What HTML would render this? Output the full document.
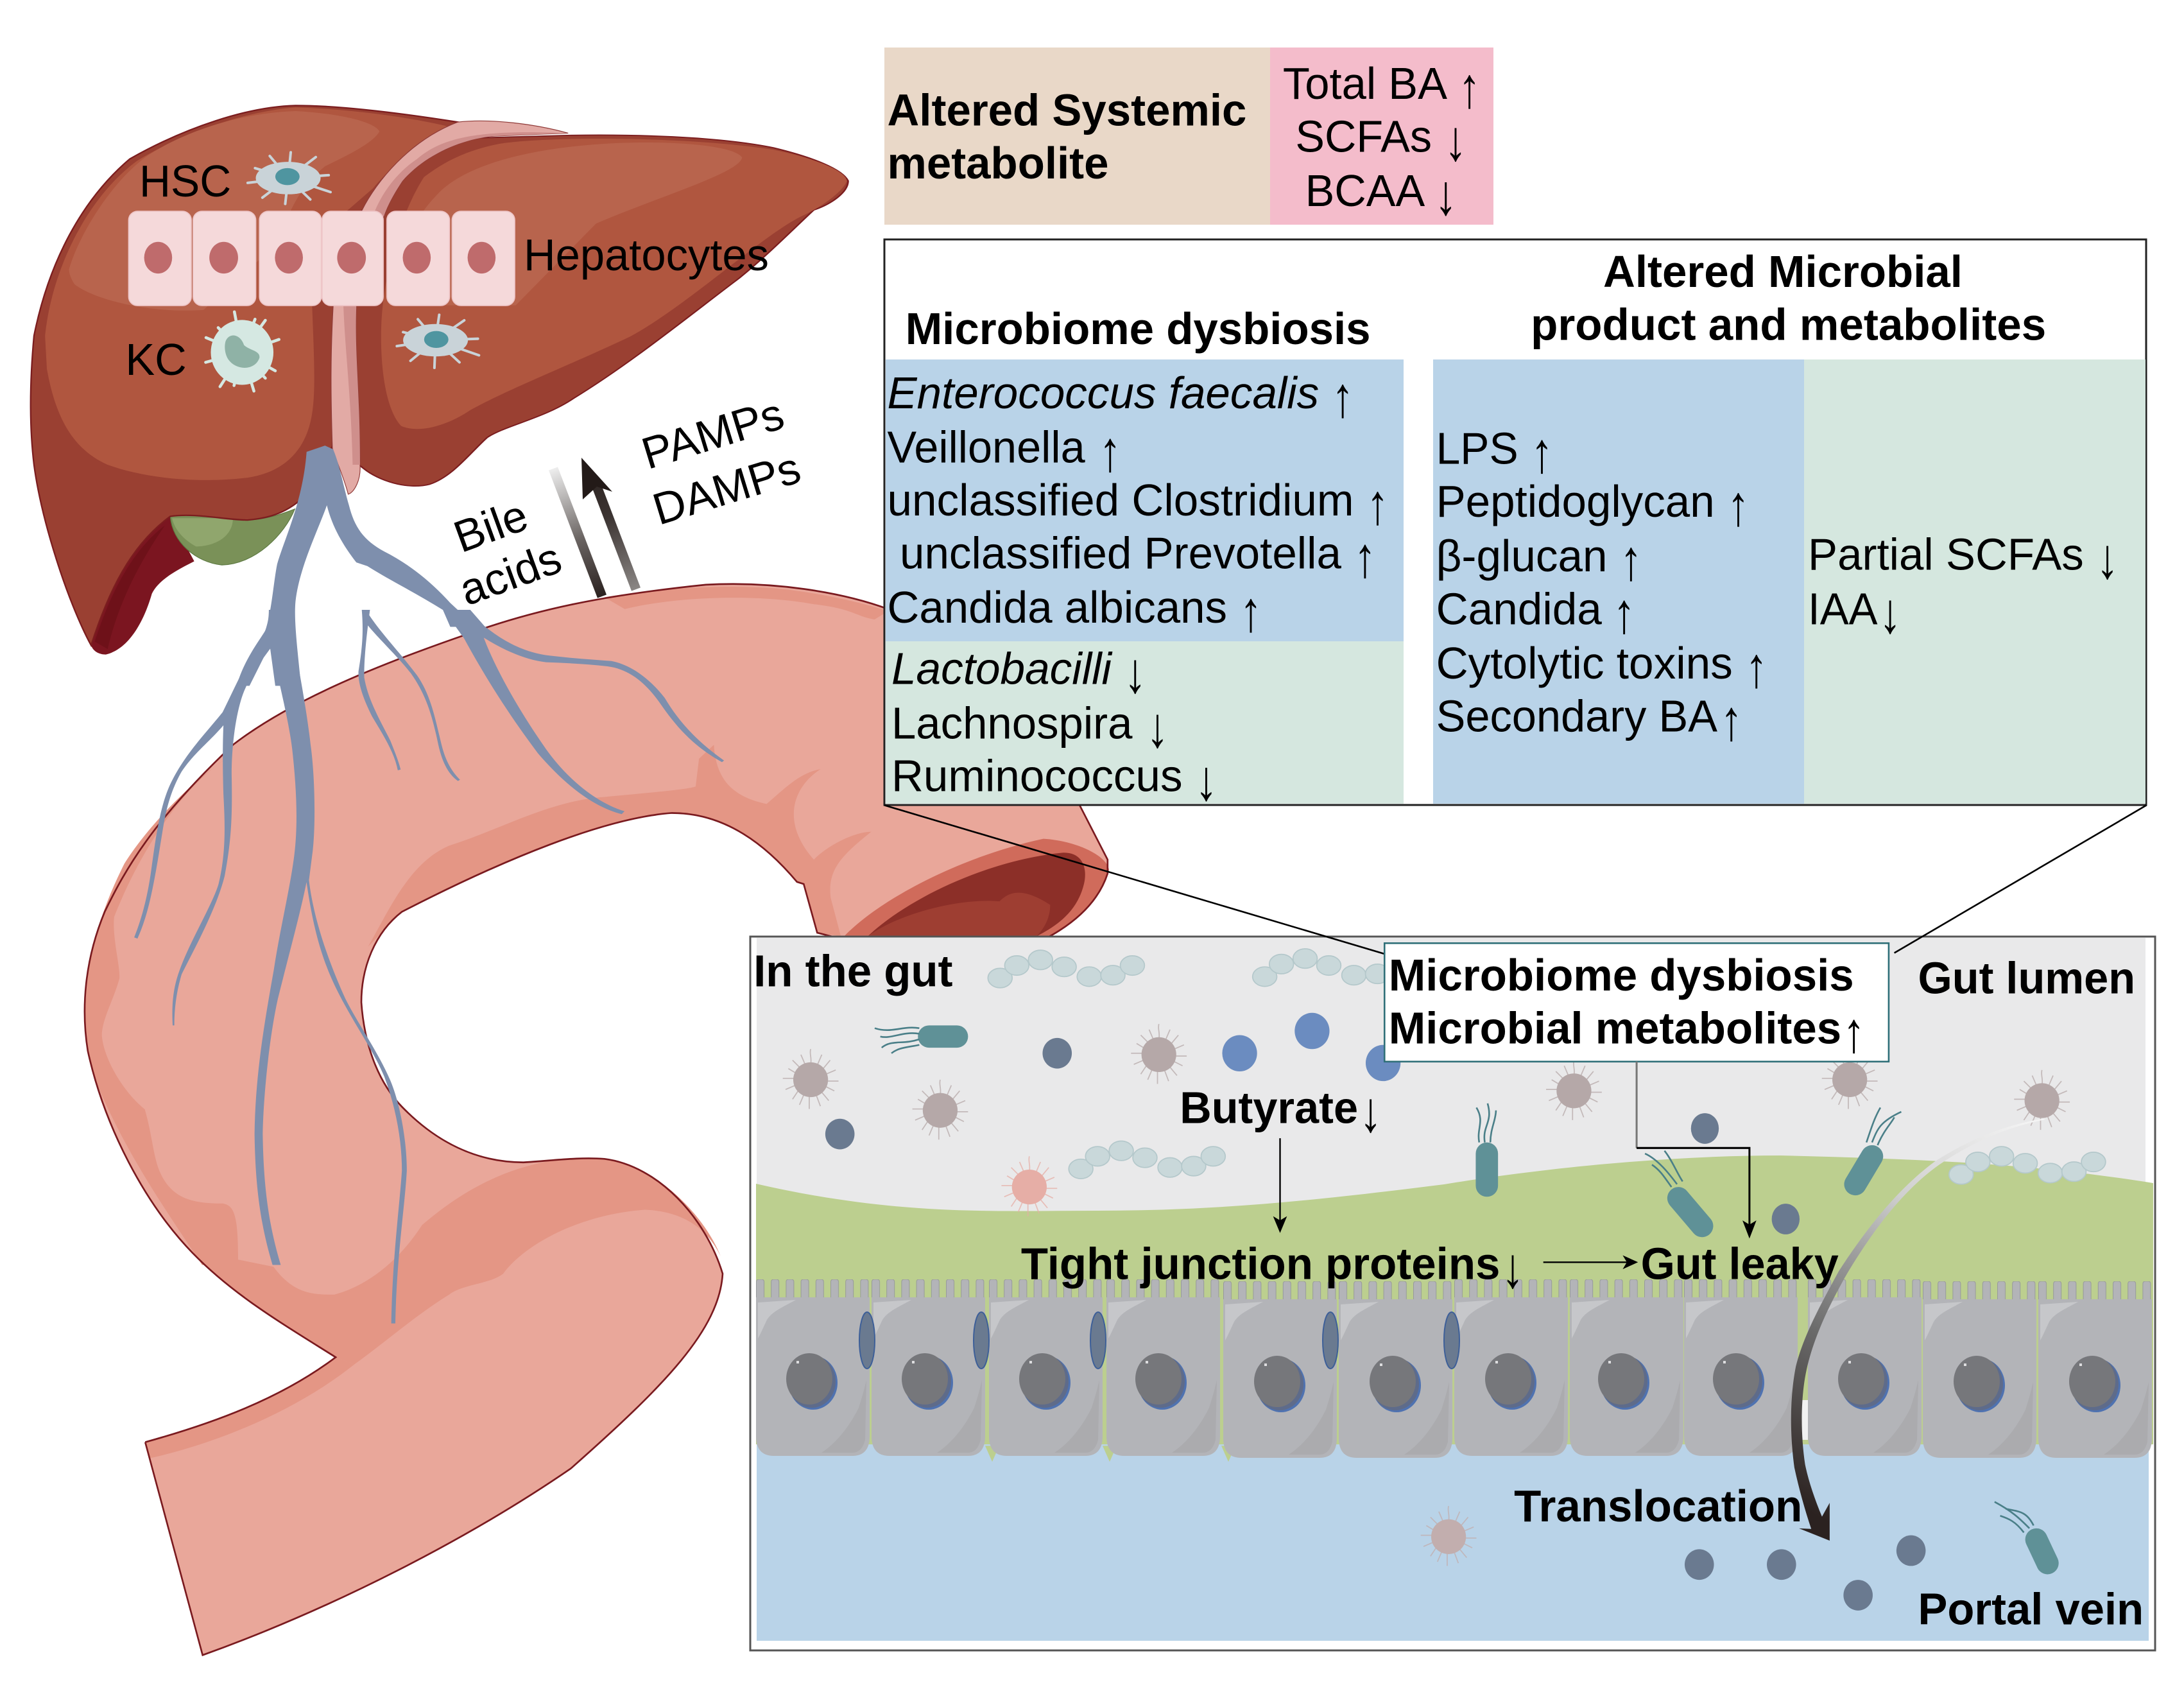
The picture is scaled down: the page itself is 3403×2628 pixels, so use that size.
<!DOCTYPE html>
<html><head><meta charset="utf-8"><style>
html,body{margin:0;padding:0;background:#fff}
svg{display:block}
text{font-family:"Liberation Sans",sans-serif;fill:#000;font-size:32px}
.b{font-weight:bold}
text.a{font-size:41px;font-weight:normal}
</style></head><body>
<svg xmlns="http://www.w3.org/2000/svg" width="3403" height="2628" viewBox="0 0 3403 2628">
<defs>
<linearGradient id="ga" gradientUnits="userSpaceOnUse" x1="862" y1="730" x2="938" y2="929"><stop offset="0" stop-color="#eeeeee"/><stop offset=".55" stop-color="#6a6462"/><stop offset="1" stop-color="#2b2220"/></linearGradient>
<linearGradient id="gb" gradientUnits="userSpaceOnUse" x1="991" y1="918" x2="920" y2="730"><stop offset="0" stop-color="#8a8684"/><stop offset=".6" stop-color="#3c3432"/><stop offset="1" stop-color="#2b2220"/></linearGradient>
<linearGradient id="gt" gradientUnits="userSpaceOnUse" x1="1120" y1="195" x2="400" y2="1500"><stop offset="0" stop-color="#f6f6f6"/><stop offset=".3" stop-color="#cfcfcf"/><stop offset=".45" stop-color="#a0a0a0"/><stop offset=".65" stop-color="#6a6a6a"/><stop offset="1" stop-color="#2b2220"/></linearGradient>
<g id="sp">
<g fill="none" stroke="currentColor" stroke-width=".8" opacity=".75">
<path d="M0,-11 C1,-16 -1,-18 0,-22 M5,-11 L8,-18 M9,-8 L14,-14 M11,-4 L18,-7 M12,1 L20,1 M11,5 L17,8 M8,9 L13,15 M4,11 L7,19 M-1,12 L-1,21 M-5,11 L-8,18 M-9,8 L-13,14 M-11,4 L-18,7 M-12,-1 L-20,-1 M-11,-5 L-16,-8 M-8,-9 L-13,-14 M-4,-11 L-7,-18"/>
</g>
<circle cx="0" cy="0" r="12.500" fill="currentColor"/>
</g>
<g id="ch" fill="#c9d8da" stroke="#b4c8cb" stroke-width=".8">
<ellipse cx="0" cy="0" rx="8.700" ry="7"/><ellipse cx="12" cy="-9" rx="8.700" ry="7"/><ellipse cx="29" cy="-13" rx="8.700" ry="7"/><ellipse cx="46" cy="-8" rx="8.700" ry="7"/><ellipse cx="64" cy="-1" rx="8.700" ry="7"/><ellipse cx="81" cy="-2" rx="8.700" ry="7"/><ellipse cx="95" cy="-9" rx="8.700" ry="7"/>
</g>
<pattern id="mv" patternUnits="userSpaceOnUse" x="0" y="-30" width="23.200" height="40">
<rect x=".5" y="0" width="12" height="44" rx="3.500" fill="#b3b4b8" stroke="#979a9b" stroke-width="1"/>
</pattern>
<g id="cell">
<rect x="0" y="-30" width="177" height="36" fill="url(#mv)"/>
<path d="M0,-2 H177 V214 Q177,245 150,245 H28 Q0,245 0,214 Z" fill="#b3b4b8"/>
<path d="M3,6 L62,2 C42,13 25,20 17,33 C9,50 7,55 3,62 Z" fill="#c6c7ca"/>
<path d="M102,240 C125,225 145,200 160,170 C168,145 170,135 172,127 L170,220 Q165,240 150,240 Z" fill="#ababae"/>
</g>
<g id="nuc">
<ellipse cx="4" cy="4" rx="38" ry="42" fill="#4f72b0"/>
<ellipse cx="2" cy="2" rx="37" ry="41" fill="#5e6b8a"/>
<ellipse cx="-2" cy="-2" rx="36" ry="40" fill="#76777b"/>
<rect x="-22" y="-30" width="4" height="4" fill="#dedee0"/>
</g>
</defs>

<rect width="3403" height="2628" fill="#fff"/>

<!-- gut -->
<g transform="translate(100,900) scale(1.0523,1.0842)">
<path id="gutp" d="M120,1242 C220,1215 320,1180 402,1120 C320,1070 250,1030 190,970 C120,900 60,790 35,680 C25,620 30,550 60,480 C90,420 130,350 250,240 C330,180 450,130 600,80 C700,45 800,25 950,10 C1050,5 1150,20 1220,45 L1500,320 L1545,405 L1545,425 C1530,470 1490,500 1450,520 L1155,520 L1115,510 L1095,440 L1085,437 C1040,385 980,338 900,338 C800,345 650,405 500,480 C460,510 440,560 440,610 C445,680 470,730 500,760 C550,810 610,840 680,840 C720,838 760,832 800,835 C880,845 950,920 975,1000 C970,1080 890,1160 750,1280 C600,1380 400,1480 205,1548 Z" fill="#e9a79a"/>
<path d="M190,970 L259,980 L310,990 C340,1030 370,1030 400,1030 C440,1020 490,990 530,930 C590,880 650,850 720,838 C760,832 780,834 800,835 C880,845 950,920 972,975 C950,930 910,910 860,908 C760,915 680,960 650,1000 C630,1015 590,1015 570,1030 C520,1060 480,1095 430,1130 L402,1120 C320,1070 250,1030 190,970 Z" fill="#e49685"/>
<path d="M120,1242 C220,1215 320,1180 402,1120 L430,1130 C340,1200 220,1245 127,1265 Z" fill="#e49685"/>
<path d="M450,530 C480,480 510,410 570,385 C650,360 720,320 800,315 C850,310 920,305 935,300 L940,260 L962,240 C965,290 990,315 1040,325 C1070,300 1090,280 1120,275 C1080,300 1060,350 1110,405 C1130,385 1170,365 1195,365 C1150,400 1130,420 1135,460 L1150,515 L1115,510 L1095,440 L1085,437 C1040,385 980,338 900,338 C800,345 650,405 500,480 Z" fill="#e49685"/>
<path d="M800,28 C850,20 950,8 1050,15 C1110,20 1180,35 1220,48 L1200,60 C1170,55 1170,45 1110,38 C1020,22 900,28 830,45 Z" fill="#e49685"/>
<path d="M1155,515 C1210,460 1330,400 1450,375 C1500,378 1545,400 1547,420 C1530,470 1490,500 1450,520 L1155,520 Z" fill="#d06b5b"/>
<path d="M1190,515 C1250,460 1370,405 1480,395 C1510,395 1515,420 1510,440 C1500,480 1470,500 1440,515 Z" fill="#8c2f28"/>
<path d="M1190,515 C1240,480 1330,460 1385,465 C1400,450 1420,445 1460,470 C1460,490 1450,505 1440,515 Z" fill="#9e3e32"/>
</g>
<g transform="translate(130,950) scale(.6378)">
<path d="M350,362 C260,420 150,560 75,750 C70,800 90,870 88,900 C75,950 45,1000 45,1040 C50,1100 100,1180 150,1220 C170,1290 170,1340 190,1380 C220,1440 270,1450 340,1450 C370,1455 378,1480 378,1600 L290,1600 C190,1450 100,1320 30,1150 C10,1080 0,1000 5,970 C10,860 30,760 100,620 C150,540 250,430 350,362 Z" fill="#e49685"/>
</g>
<g transform="translate(100,900) scale(1.0523,1.0842)">
<path d="M120,1242 C220,1215 320,1180 402,1120 C320,1070 250,1030 190,970 C120,900 60,790 35,680 C25,620 30,550 60,480 C90,420 130,350 250,240 C330,180 450,130 600,80 C700,45 800,25 950,10 C1050,5 1150,20 1220,45 L1500,320 L1545,405 L1545,425 C1530,470 1490,500 1450,520 L1155,520 L1115,510 L1095,440 L1085,437 C1040,385 980,338 900,338 C800,345 650,405 500,480 C460,510 440,560 440,610 C445,680 470,730 500,760 C550,810 610,840 680,840 C720,838 760,832 800,835 C880,845 950,920 975,1000 C970,1080 890,1160 750,1280 C600,1380 400,1480 205,1548 L120,1242" fill="none" stroke="#7a1a1f" stroke-width="2.500"/>
</g>

<!-- liver -->
<g transform="translate(30,150) scale(.574)">
<path d="M195,1490 C240,1350 300,1220 410,1140 L475,1262 C430,1285 380,1310 360,1350 C340,1420 300,1500 235,1515 C215,1515 200,1505 195,1490 Z" fill="#7b1520"/>
<path d="M205,1480 C250,1340 310,1230 395,1165 C330,1260 270,1370 240,1500 Z" fill="#6e1119"/>
<path d="M410,1140 C480,1130 560,1150 620,1150 C670,1148 710,1135 748,1120 C720,1190 640,1270 550,1272 C480,1265 415,1210 410,1140 Z" fill="#7a9158" stroke="#5d7a42" stroke-width="2"/>
<path d="M415,1145 L580,1145 C580,1190 540,1220 480,1222 C440,1200 420,1170 415,1145 Z" fill="#90a66d"/>
<path d="M1190,70 C1000,40 850,25 750,25 C620,28 450,85 300,170 C170,280 80,450 40,650 C28,780 28,900 40,1000 C60,1150 130,1370 195,1490 C240,1350 300,1220 410,1140 C480,1130 560,1150 620,1150 C680,1145 730,1130 780,1080 L850,950 L860,570 L930,310 Z" fill="#9a4032" stroke="#7b1d1f" stroke-width="4"/>
<path d="M70,650 C90,460 190,270 320,175 C450,95 620,40 750,30 C900,35 1050,55 1165,82 C1090,120 1010,190 960,250 L885,315 L795,570 C800,700 805,800 795,860 C780,960 720,1020 620,1035 C500,1050 350,1040 240,1000 C150,960 100,880 75,740 Z" fill="#b0563f"/>
<path d="M135,470 C160,380 250,230 350,160 C450,95 600,45 750,40 C850,45 960,65 978,95 C960,130 870,170 830,190 C770,240 740,290 700,400 L500,580 C350,590 200,550 150,510 C140,495 135,480 135,470 Z" fill="#b8644d"/>
</g>
<g transform="translate(0,100) scale(.8929,.6059)">
<path d="M990,183 C1100,180 1250,185 1350,215 C1420,240 1470,270 1480,300 C1480,330 1450,360 1420,375 C1380,430 1340,490 1290,550 C1200,650 1100,770 1000,860 C950,910 880,930 850,960 C820,1000 790,1060 750,1080 C710,1095 660,1070 635,1040 L600,1000 L600,620 L640,380 C680,280 750,210 820,190 Z" fill="#9a4032" stroke="#7b1d1f" stroke-width="3"/>
<path d="M870,205 C950,185 1200,185 1350,220 C1430,245 1475,275 1478,300 C1470,330 1430,370 1400,390 C1330,440 1200,620 1100,700 C1000,770 880,840 820,890 C780,930 730,950 700,930 C680,900 665,820 665,700 C665,550 700,380 740,290 C780,245 820,220 870,205 Z" fill="#b0563f"/>
<path d="M760,340 C800,270 900,220 1050,205 C1150,195 1280,205 1295,240 C1290,280 1150,340 1040,410 L900,620 L680,620 C690,500 720,400 760,340 Z" fill="#b8644d"/>
</g>
<g transform="translate(30,150) scale(.574)">
<path d="M1190,70 C1280,60 1400,75 1490,100 L1290,108 C1200,115 1100,160 1040,230 C1020,260 1000,295 990,325 L915,570 C910,700 925,800 925,1000 C928,1040 910,1075 893,1080 C880,1030 860,990 850,955 C845,800 845,700 852,570 L930,310 C970,230 1060,120 1190,70 Z" fill="#e2aaa5" stroke="#8f3a38" stroke-width="2"/>
<path d="M1490,100 L1290,108 C1200,115 1100,160 1040,230 C1020,260 1000,295 990,325 L960,325 C980,270 1020,210 1080,170 C1150,110 1250,90 1490,100 Z" fill="#cf8f8c"/>
<path d="M880,570 H915 C910,700 925,800 925,1000 L905,1000 C900,800 885,700 880,570 Z" fill="#cf8f8c"/>
<!-- hepatocytes -->
<g fill="#f5d9da" stroke="#eec6c8" stroke-width="3">
<rect x="297" y="312" width="170" height="256" rx="24"/><rect x="472" y="312" width="170" height="256" rx="24"/><rect x="652" y="312" width="168" height="256" rx="24"/><rect x="822" y="312" width="166" height="256" rx="24"/><rect x="998" y="312" width="170" height="256" rx="24"/><rect x="1175" y="312" width="170" height="256" rx="24"/>
</g>
<g fill="#bf6b6c"><ellipse cx="377" cy="438" rx="38" ry="43"/><ellipse cx="555" cy="438" rx="39" ry="43"/><ellipse cx="732" cy="438" rx="38" ry="43"/><ellipse cx="902" cy="438" rx="39" ry="43"/><ellipse cx="1079" cy="438" rx="38" ry="43"/><ellipse cx="1255" cy="438" rx="38" ry="43"/></g>
<!-- HSC -->
<g fill="none" stroke="#c9d3d8" stroke-width="7" stroke-linecap="round">
<path d="M730,222 L620,235 M730,222 L640,195 M730,222 L680,162 M730,222 L737,152 M730,222 L805,165 M730,222 L840,214 M730,222 L845,260 M730,222 L790,280 M730,222 L722,292 M730,222 L660,275"/>
<path d="M1130,662 L1025,678 M1130,662 L1042,640 M1130,662 L1082,605 M1130,662 L1140,593 M1130,662 L1208,608 M1130,662 L1245,658 M1130,662 L1248,703 M1130,662 L1195,722 M1130,662 L1127,737 M1130,662 L1062,718"/>
</g>
<ellipse cx="730" cy="222" rx="88" ry="44" fill="#c9d3d8"/><ellipse cx="728" cy="218" rx="33" ry="23" fill="#4f95a0"/>
<ellipse cx="1130" cy="662" rx="88" ry="44" fill="#c9d3d8"/><ellipse cx="1132" cy="660" rx="33" ry="23" fill="#4f95a0"/>
<!-- KC -->
<g fill="none" stroke="#d5e8e2" stroke-width="8" stroke-linecap="round">
<path d="M605,695 L584,585 M605,695 L640,605 M605,695 L668,608 M605,695 L705,660 M605,695 L695,745 M605,695 L668,765 M605,695 L637,800 M605,695 L583,785 M605,695 L545,788 M605,695 L506,722 M605,695 L507,655 M605,695 L540,628"/>
</g>
<ellipse cx="605" cy="695" rx="85" ry="88" fill="#d5e8e2"/>
<path d="M560,665 C570,640 600,645 610,675 C625,690 655,690 652,710 C640,745 590,745 568,715 C558,700 556,680 560,665 Z" fill="#8fb2a6"/>
<!-- veins top -->
<path d="M780,965 L830,948 L852,958 C870,1000 880,1060 895,1110 C910,1170 935,1205 990,1235 C1060,1270 1120,1320 1170,1375 L1240,1440 L1170,1440 L1150,1394 C1080,1350 1000,1310 945,1275 L915,1265 C880,1220 850,1170 835,1110 C810,1180 760,1280 750,1370 C745,1420 755,1500 765,1600 L695,1600 L680,1490 L625,1600 L590,1600 C610,1530 650,1480 668,1450 C685,1400 690,1320 700,1270 C720,1200 770,1100 780,965 Z" fill="#7e8fad"/>
</g>
<!-- veins lower -->
<g transform="translate(130,950) scale(.6378)" fill="#7e8fad">
<path d="M453,0 L515,0 L515,80 C525,140 545,240 555,330 C565,400 568,520 560,590 L551,660 C560,740 590,840 640,950 C670,1010 720,1080 750,1150 C775,1210 790,1300 790,1370 C785,1460 765,1580 762,1743 L752,1743 C755,1580 772,1460 778,1370 C778,1300 765,1220 735,1140 C705,1070 660,1010 620,930 C580,850 560,770 545,665 C530,740 505,830 475,950 C455,1040 440,1180 438,1280 C440,1420 455,1510 482,1600 L462,1600 C435,1510 420,1420 418,1280 C420,1140 440,1020 465,880 C480,780 505,680 515,600 C525,520 520,430 510,340 C500,260 475,170 460,90 C430,130 400,170 385,220 C370,270 362,340 362,400 C364,500 362,560 345,650 C325,730 270,830 240,890 C228,930 222,970 222,1015 L218,1015 C215,960 220,920 235,880 C260,810 315,720 330,670 C350,590 345,510 342,450 C340,380 340,330 342,282 C310,320 270,350 240,395 C220,430 205,470 195,530 C185,590 175,660 160,720 C150,760 140,785 132,803 L124,800 C140,760 155,710 165,640 C175,570 185,480 215,420 C250,350 300,300 340,250 C370,190 400,120 440,60 C450,40 453,20 453,0 Z"/>
<path d="M880,0 L945,0 L980,40 C1030,80 1080,105 1140,112 C1190,118 1250,122 1290,125 C1340,135 1385,170 1420,215 C1450,265 1490,315 1565,368 L1560,372 C1485,330 1445,280 1410,230 C1375,180 1335,145 1280,138 C1230,132 1180,130 1130,128 C1080,122 1030,100 978,68 C1005,140 1060,240 1130,340 C1180,410 1250,470 1322,492 L1315,499 C1240,480 1170,420 1110,350 C1050,270 990,180 930,70 Z"/>
<path d="M680,0 L700,0 C692,60 685,120 686,165 C695,220 725,270 750,320 C762,350 770,370 775,390 L768,392 C760,350 735,310 705,260 C685,220 670,180 672,150 C680,100 685,60 680,0 Z"/>
<path d="M690,0 C720,50 770,100 815,160 C850,210 860,270 875,330 C885,370 900,395 920,415 L915,418 C890,400 875,370 865,320 C850,250 835,205 800,155 C760,105 710,60 685,25 Z"/>
</g>

<!-- small arrows near liver -->
<path d="M862,730 L938,929" stroke="url(#ga)" stroke-width="15" fill="none"/>
<path d="M991,918 L925,745" stroke="url(#gb)" stroke-width="15" fill="none"/>
<path d="M906,713 L954,766 L930,758 L908,778 Z" fill="#231a18"/>

<!-- top table boxes -->
<rect x="1378" y="74" width="602" height="276" fill="#e9d8c8"/>
<rect x="1979" y="74" width="348" height="276" fill="#f4bccb"/>
<rect x="1378" y="373" width="1966" height="881" fill="#fff" stroke="#222" stroke-width="3"/>
<rect x="1380" y="560" width="807" height="439" fill="#b9d3e8"/>
<rect x="1380" y="999" width="807" height="253" fill="#d5e7df"/>
<rect x="2233" y="560" width="578" height="692" fill="#b9d3e8"/>
<rect x="2811" y="560" width="532" height="692" fill="#d5e7df"/>

<!-- gut panel -->
<rect x="1169" y="1459" width="2189" height="1112" fill="#fff" stroke="#555" stroke-width="3"/>
<rect x="1179" y="1461" width="2164" height="640" fill="#e9e9ea"/>
<path d="M1178,1844 C1400,1895 1550,1886 1711,1886 C1900,1886 2050,1870 2250,1845 C2400,1820 2600,1800 2774,1800 C2965,1805 3150,1810 3355,1843 V2250 H1178 Z" fill="#bccf8f"/>
<rect x="1179" y="2250" width="2169" height="306" fill="#b9d3e8"/>
<path d="M1535,2250 h22 L1546,2275 Z M1718,2250 h22 L1729,2275 Z M1903,2250 h22 L1914,2275 Z" fill="#bccf8f" transform="translate(0,18) scale(1,.993)"/>
<rect x="2798" y="2181" width="19" height="62" fill="#f1f1f1"/>
<g>
<use href="#cell" transform="translate(1178,2023)"/>
<use href="#cell" transform="translate(1358,2023)"/>
<use href="#cell" transform="translate(1541,2023)"/>
<use href="#cell" transform="translate(1724,2023)"/>
<use href="#cell" transform="translate(1906,2026)"/>
<use href="#cell" transform="translate(2086,2026)"/>
<use href="#cell" transform="translate(2266,2023)"/>
<use href="#cell" transform="translate(2446,2023)"/>
<use href="#cell" transform="translate(2624,2023)"/>
<use href="#cell" transform="translate(2817,2023)"/>
<use href="#cell" transform="translate(2996,2026)"/>
<use href="#cell" transform="translate(3176,2026)"/>
</g>
<g>
<use href="#nuc" transform="translate(1263,2150)"/><use href="#nuc" transform="translate(1443,2150)"/><use href="#nuc" transform="translate(1626,2150)"/><use href="#nuc" transform="translate(1807,2150)"/><use href="#nuc" transform="translate(1992,2154)"/><use href="#nuc" transform="translate(2172,2154)"/><use href="#nuc" transform="translate(2352,2150)"/><use href="#nuc" transform="translate(2528,2150)"/><use href="#nuc" transform="translate(2707,2150)"/><use href="#nuc" transform="translate(2902,2150)"/><use href="#nuc" transform="translate(3082,2154)"/><use href="#nuc" transform="translate(3262,2154)"/>
</g>
<g fill="#6a7a90" stroke="#3d5f98" stroke-width="2">
<ellipse cx="1351" cy="2088" rx="12" ry="44"/><ellipse cx="1529" cy="2088" rx="12" ry="44"/><ellipse cx="1711" cy="2088" rx="12" ry="44"/><ellipse cx="2073" cy="2088" rx="12" ry="44"/><ellipse cx="2262" cy="2088" rx="12" ry="44"/>
</g>

<g transform="scale(2.1703)">
<!-- microbes -->
<g fill="#6b8cc0"><ellipse cx="890" cy="756" rx="12.500" ry="13"/><ellipse cx="942" cy="740" rx="12.500" ry="13"/><ellipse cx="993" cy="763" rx="12.500" ry="13"/></g>
<g fill="#6a7a90"><ellipse cx="759" cy="756" rx="10.500" ry="11"/><ellipse cx="603" cy="814" rx="10.500" ry="11"/><ellipse cx="1224" cy="810" rx="10" ry="11"/><ellipse cx="1282" cy="875" rx="10" ry="11"/><ellipse cx="1220" cy="1123" rx="10.500" ry="11"/><ellipse cx="1279" cy="1123" rx="10.500" ry="11"/><ellipse cx="1334" cy="1145" rx="10.500" ry="11"/><ellipse cx="1372" cy="1113" rx="10.500" ry="11"/></g>
<use href="#ch" transform="translate(718,702)"/>
<use href="#ch" transform="translate(908,701)"/>
<use href="#ch" transform="translate(776,839)"/>
<use href="#ch" transform="translate(1408,843)"/>
<g style="color:#b5a8a8">
<use href="#sp" transform="translate(582,775)"/><use href="#sp" transform="translate(675,797)"/><use href="#sp" transform="translate(832,757)"/><use href="#sp" transform="translate(1130,783)"/><use href="#sp" transform="translate(1328,775)"/><use href="#sp" transform="translate(1466,790)"/>
</g>
<use href="#sp" transform="translate(739,852)" style="color:#e6aea6"/>
<use href="#sp" transform="translate(1040,1103)" style="color:#c2aeae"/>
<g stroke="#5f9197" stroke-width="16" stroke-linecap="round" fill="none">
<path d="M667,744 H687"/><path d="M1067.500,828 V851"/><path d="M1205,860 L1222,880"/><path d="M1344,830 L1332,850"/><path d="M1462,1105 L1470,1122"/>
</g>
<g stroke="#4a7f88" stroke-width="1.200" fill="none">
<path d="M660,738 C648,736 640,742 628,738 M660,742 C648,740 640,746 632,744 M660,746 C648,750 640,746 633,752 M660,750 C650,752 645,752 640,756"/>
<path d="M1062,820 C1060,810 1066,805 1060,795 M1066,820 C1064,808 1072,806 1068,792 M1070,820 C1070,810 1074,804 1074,797"/>
<path d="M1200,852 C1195,845 1192,840 1186,836 M1204,850 C1198,842 1190,832 1181,828 M1208,848 C1204,842 1200,832 1195,826"/>
<path d="M1344,820 C1348,810 1350,805 1365,798 M1340,820 C1344,808 1346,802 1350,795 M1348,822 C1352,812 1358,806 1360,802"/>
<path d="M1457,1097 C1450,1090 1445,1085 1432,1078 M1460,1095 C1455,1085 1450,1085 1440,1083 M1453,1100 C1447,1092 1442,1090 1436,1088"/>
</g>
<!-- connectors -->
<g stroke="#000" fill="none">
<path d="M635,578 L995,685" stroke-width="1.200"/>
<path d="M1541,578 L1360,684" stroke-width="1.200"/>
</g>
<rect x="994" y="677" width="362" height="85" fill="#fff" stroke="#2f6f78" stroke-width="1.200"/>
<g stroke="#000" fill="none">
<path d="M1175,762 V824" stroke="#777" stroke-width="1.400"/>
<path d="M1175,824 H1256 V882" stroke-width="1.400"/>
<path d="M919,817 V878" stroke-width="1.100"/>
<path d="M1108,906 H1170" stroke-width="1.100"/>
</g>
<path d="M1256,889 L1251,876 L1256,879 L1261,876 Z M919,885 L914,873 L919,876 L924,873 Z M1176,906 L1165,901 L1168,906 L1165,911 Z" fill="#000"/>
</g>

<!-- translocation arrow -->
<g transform="translate(2650,1650) scale(.4783)">
<path d="M1120,193 C980,215 860,270 760,335 C660,410 560,520 450,690 C390,800 335,900 310,1000 C290,1100 290,1220 305,1330 C320,1400 340,1470 360,1530 L320,1528 L420,1568 L420,1445 L395,1490 C370,1430 350,1370 340,1320 C325,1220 325,1100 345,1010 C370,900 420,800 470,710 C570,540 670,420 775,345 C870,280 980,225 1120,197 Z" fill="url(#gt)"/>
</g>

<g transform="scale(2.1703)">
<!-- top box text -->
<text class="b" x="637" y="90" textLength="258" lengthAdjust="spacingAndGlyphs">Altered Systemic</text>
<text class="b" x="637" y="128" textLength="159" lengthAdjust="spacingAndGlyphs">metabolite</text>
<text x="921" y="71" textLength="118" lengthAdjust="spacingAndGlyphs">Total BA</text><text class="a" x="1047" y="77" textLength="16" lengthAdjust="spacingAndGlyphs">↑</text>
<text x="930" y="109" textLength="98" lengthAdjust="spacingAndGlyphs">SCFAs</text><text class="a" x="1037" y="115" textLength="16" lengthAdjust="spacingAndGlyphs">↓</text>
<text x="937" y="148" textLength="86" lengthAdjust="spacingAndGlyphs">BCAA</text><text class="a" x="1030" y="154" textLength="16" lengthAdjust="spacingAndGlyphs">↓</text>
<text class="b" x="1151" y="206" textLength="258" lengthAdjust="spacingAndGlyphs">Altered Microbial</text>
<text class="b" x="1099" y="244" textLength="370" lengthAdjust="spacingAndGlyphs">product and metabolites</text>
<text class="b" x="650" y="247" textLength="334" lengthAdjust="spacingAndGlyphs">Microbiome dysbiosis</text>
<text x="637" y="293" font-style="italic" textLength="310" lengthAdjust="spacingAndGlyphs">Enterococcus faecalis</text><text class="a" x="956" y="299" textLength="16" lengthAdjust="spacingAndGlyphs">↑</text>
<text x="637" y="332" textLength="142" lengthAdjust="spacingAndGlyphs">Veillonella</text><text class="a" x="789" y="338" textLength="16" lengthAdjust="spacingAndGlyphs">↑</text>
<text x="637" y="370" textLength="335" lengthAdjust="spacingAndGlyphs">unclassified Clostridium</text><text class="a" x="981" y="376" textLength="16" lengthAdjust="spacingAndGlyphs">↑</text>
<text x="646" y="408" textLength="317" lengthAdjust="spacingAndGlyphs">unclassified Prevotella</text><text class="a" x="972" y="414" textLength="16" lengthAdjust="spacingAndGlyphs">↑</text>
<text x="637" y="447" textLength="244" lengthAdjust="spacingAndGlyphs">Candida albicans</text><text class="a" x="890" y="453" textLength="16" lengthAdjust="spacingAndGlyphs">↑</text>
<text x="640" y="491" font-style="italic" textLength="158" lengthAdjust="spacingAndGlyphs">Lactobacilli</text><text class="a" x="807" y="497" textLength="16" lengthAdjust="spacingAndGlyphs">↓</text>
<text x="640" y="530" textLength="173" lengthAdjust="spacingAndGlyphs">Lachnospira</text><text class="a" x="823" y="536" textLength="16" lengthAdjust="spacingAndGlyphs">↓</text>
<text x="640" y="568" textLength="209" lengthAdjust="spacingAndGlyphs">Ruminococcus</text><text class="a" x="858" y="574" textLength="16" lengthAdjust="spacingAndGlyphs">↓</text>
<text x="1031" y="333" textLength="59" lengthAdjust="spacingAndGlyphs">LPS</text><text class="a" x="1099" y="339" textLength="16" lengthAdjust="spacingAndGlyphs">↑</text>
<text x="1031" y="371" textLength="200" lengthAdjust="spacingAndGlyphs">Peptidoglycan</text><text class="a" x="1240" y="377" textLength="16" lengthAdjust="spacingAndGlyphs">↑</text>
<text x="1031" y="410" textLength="123" lengthAdjust="spacingAndGlyphs">β-glucan</text><text class="a" x="1163" y="416" textLength="16" lengthAdjust="spacingAndGlyphs">↑</text>
<text x="1031" y="448" textLength="119" lengthAdjust="spacingAndGlyphs">Candida</text><text class="a" x="1158" y="454" textLength="16" lengthAdjust="spacingAndGlyphs">↑</text>
<text x="1031" y="487" textLength="213" lengthAdjust="spacingAndGlyphs">Cytolytic toxins</text><text class="a" x="1253" y="493" textLength="16" lengthAdjust="spacingAndGlyphs">↑</text>
<text x="1031" y="525" textLength="202" lengthAdjust="spacingAndGlyphs">Secondary BA</text><text class="a" x="1235" y="531" textLength="16" lengthAdjust="spacingAndGlyphs">↑</text>
<text x="1298" y="409" textLength="198" lengthAdjust="spacingAndGlyphs">Partial SCFAs</text><text class="a" x="1505" y="415" textLength="16" lengthAdjust="spacingAndGlyphs">↓</text>
<text x="1298" y="448" textLength="50" lengthAdjust="spacingAndGlyphs">IAA</text><text class="a" x="1349" y="454" textLength="16" lengthAdjust="spacingAndGlyphs">↓</text>
<!-- liver labels -->
<text x="100" y="141" textLength="66" lengthAdjust="spacingAndGlyphs">HSC</text>
<text x="90" y="269" textLength="44" lengthAdjust="spacingAndGlyphs">KC</text>
<text x="376" y="194" textLength="176" lengthAdjust="spacingAndGlyphs">Hepatocytes</text>
<text transform="translate(331,397) rotate(-20)" style="font-size:32px">Bile</text>
<text transform="translate(335,435) rotate(-20)" style="font-size:32px">acids</text>
<text transform="translate(465,337) rotate(-17)" style="font-size:32px">PAMPs</text>
<text transform="translate(473,377) rotate(-17)" style="font-size:32px">DAMPs</text>
<!-- panel labels -->
<text class="b" x="541" y="708" textLength="143" lengthAdjust="spacingAndGlyphs">In the gut</text>
<text class="b" x="1377" y="713" textLength="156" lengthAdjust="spacingAndGlyphs">Gut lumen</text>
<text class="b" x="997" y="711" textLength="334" lengthAdjust="spacingAndGlyphs">Microbiome dysbiosis</text>
<text class="b" x="997" y="749" textLength="325" lengthAdjust="spacingAndGlyphs">Microbial metabolites</text><text class="a" x="1323" y="755" textLength="16" lengthAdjust="spacingAndGlyphs">↑</text>
<text class="b" x="847" y="806" textLength="128" lengthAdjust="spacingAndGlyphs">Butyrate</text><text class="a" x="976" y="812" textLength="16" lengthAdjust="spacingAndGlyphs">↓</text>
<text class="b" x="733" y="918" textLength="344" lengthAdjust="spacingAndGlyphs">Tight junction proteins</text><text class="a" x="1078" y="924" textLength="16" lengthAdjust="spacingAndGlyphs">↓</text>
<text class="b" x="1178" y="918" textLength="142" lengthAdjust="spacingAndGlyphs">Gut leaky</text>
<text class="b" x="1087" y="1092" textLength="207" lengthAdjust="spacingAndGlyphs">Translocation</text>
<text class="b" x="1377" y="1166" textLength="162" lengthAdjust="spacingAndGlyphs">Portal vein</text>
</g>
</svg>
</body></html>
